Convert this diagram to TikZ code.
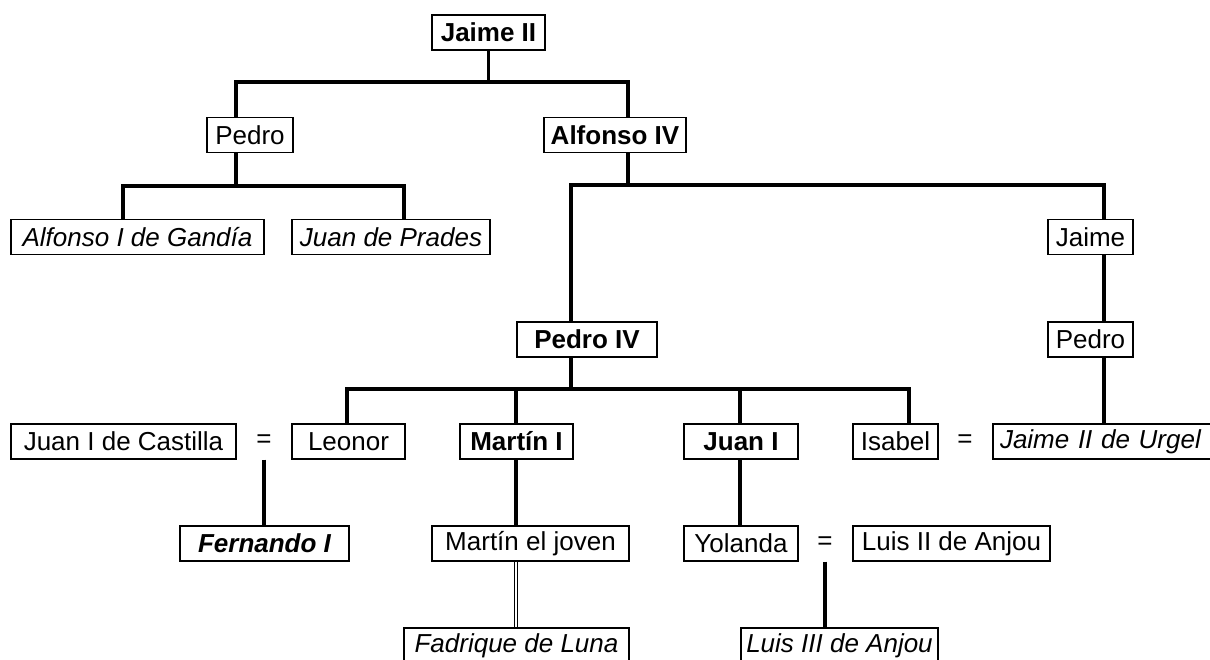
\documentclass[tikz,border=0pt]{standalone}
\usepackage{fontspec}
\setmainfont{Liberation Sans}
\begin{document}
\begin{tikzpicture}[x=1pt,y=-1pt,
  pbox/.style={draw, fill=white, line width=1.2pt, inner sep=0pt, minimum height=35pt,
    font=\fontsize{26}{30}\selectfont},
  bld/.style={pbox, font=\fontsize{26}{30}\selectfont\bfseries},
  itl/.style={pbox, font=\fontsize{26}{30}\selectfont\itshape},
  bit/.style={pbox, font=\fontsize{26}{30}\selectfont\bfseries\itshape},
  eqs/.style={inner sep=0pt, font=\fontsize{26}{30}\selectfont},
  tree/.style={line width=3.6pt},
  wed/.style={double, double distance=2.4pt, line width=1.2pt}]
\useasboundingbox (0,0) rectangle (1210,660);
\fill[white] (0,0) rectangle (1210,660);

% row 0
\node[bld, minimum width=113pt] (j2) at (488.5,32.5) {Jaime II};
% row 1
\node[pbox, minimum width=86pt] (ped) at (250,135) {Pedro};
\node[bld, minimum width=142pt] (alf) at (615,135) {Alfonso IV};
% row 2
\node[itl, minimum width=253pt] (gand) at (137.5,237) {Alfonso I de Gandía};
\node[itl, minimum width=198pt] (prad) at (391,237) {Juan de Prades};
\node[pbox, minimum width=85pt] (jai) at (1090.5,237) {Jaime};
% row 3
\node[bld, minimum width=140pt] (p4) at (587,339.5) {Pedro IV};
\node[pbox, minimum width=85pt] (pedr) at (1090.5,339.5) {Pedro};
% row 4
\node[pbox, minimum width=225pt] (jcast) at (123.5,441.5) {Juan I de Castilla};
\node[eqs] (eq1) at (264,441.5) {=};
\node[pbox, minimum width=113pt] (leo) at (348.5,441.5) {Leonor};
\node[bld, minimum width=113pt] (mart) at (516.5,441.5) {Martín I};
\node[bld, minimum width=114pt] (juan) at (741,441.5) {Juan I};
\node[pbox, minimum width=85pt] (isa) at (895.5,441.5) {Isabel};
\node[eqs] (eq2) at (965,441.5) {=};
\node[itl, minimum width=232pt, align=left, text width=218pt] (urg) at (1109,441.5) {Jaime II de Urgel};
% row 5
\node[bit, minimum width=169pt] (fern) at (264.5,543.5) {Fernando I};
\node[pbox, minimum width=197pt] (mjov) at (530.5,543.5) {Martín el joven};
\node[pbox, minimum width=114pt] (yol) at (741,543.5) {Yolanda};
\node[eqs] (eq3) at (825,543.5) {=};
\node[pbox, minimum width=197pt] (luis2) at (951.5,543.5) {Luis II de Anjou};
% row 6
\node[itl, minimum width=225pt] (fadr) at (516.5,645.5) {Fadrique de Luna};
\node[itl, minimum width=197pt] (luis3) at (839.5,645.5) {Luis III de Anjou};

% bus junctions
\coordinate (b0) at (488.5,82);
\coordinate (b1) at (236,186);
\coordinate (b2) at (628,185);
\coordinate (b3) at (571,389);

% Jaime II -> Pedro, Alfonso IV
\draw[tree] (j2.south) -- (b0);
\draw[tree] ([xshift=-14pt]ped.north) |- (b0) -| ([xshift=13pt]alf.north);
% Pedro -> sons
\draw[tree] ([xshift=-14pt]ped.south) -- (b1);
\draw[tree] ([xshift=-14.5pt]gand.north) |- (b1) -| ([xshift=13pt]prad.north);
% Alfonso IV -> Pedro IV, Jaime
\draw[tree] ([xshift=13pt]alf.south) -- (b2);
\draw[tree] ([xshift=-16pt]p4.north) |- (b2) -| ([xshift=13.5pt]jai.north);
\draw[tree] ([xshift=13.5pt]jai.south) -- ([xshift=13.5pt]pedr.north);
\draw[tree] ([xshift=13.5pt]pedr.south) -- ([xshift=13.5pt]pedr.south |- urg.north);
% Pedro IV -> children
\draw[tree] ([xshift=-16pt]p4.south) -- (b3);
\draw[tree] ([xshift=-1.5pt]leo.north) |- (b3) -| ([xshift=13.5pt]isa.north);
\draw[tree] ([xshift=-0.5pt]mart.north) -- ([xshift=-0.5pt]mart.north |- b3);
\draw[tree] ([xshift=-1pt]juan.north) -- ([xshift=-1pt]juan.north |- b3);
% next generation
\draw[tree] (eq1 |- jcast.south) -- (eq1 |- fern.north);
\draw[tree] ([xshift=-0.5pt]mart.south) -- ([xshift=-0.5pt]mart.south |- mjov.north);
\draw[tree] ([xshift=-1pt]juan.south) -- ([xshift=-1pt]yol.north);
\draw[wed] ([xshift=-0.5pt]mart.south |- mjov.south) -- ([xshift=-0.5pt]mart.south |- fadr.north);
\draw[tree] (eq3 |- yol.south) -- (eq3 |- luis3.north);
\end{tikzpicture}
\end{document}
